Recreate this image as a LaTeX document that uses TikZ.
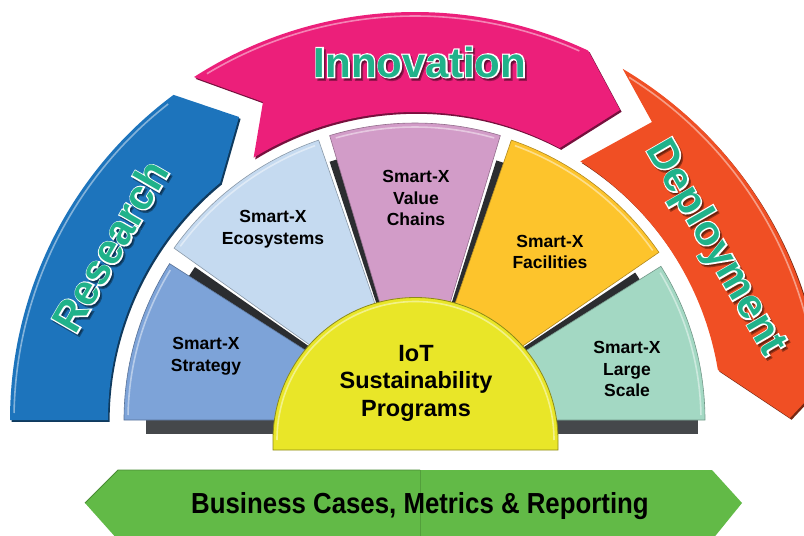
\documentclass[tikz,border=0pt]{standalone}
\usepackage{fontspec}
\setmainfont{Liberation Sans}
\newfontfamily\outlinefont[FakeBold=6]{Liberation Sans Bold}
\newfontfamily\narrowfont[FakeStretch=0.89]{Liberation Sans Bold}
\usetikzlibrary{calc}
\definecolor{rsblue}{HTML}{1D74BC}
\definecolor{innpink}{HTML}{EC1F7A}
\definecolor{deporange}{HTML}{F04F24}
\definecolor{stratblue}{HTML}{7DA3D8}
\definecolor{ecoblue}{HTML}{C5DAF0}
\definecolor{valmauve}{HTML}{D29CC8}
\definecolor{facgold}{HTML}{FDC42C}
\definecolor{largemint}{HTML}{A3D8C3}
\definecolor{iotyellow}{HTML}{E9E628}
\definecolor{bizgreen}{HTML}{62BA47}
\definecolor{labteal}{HTML}{20B28A}
\definecolor{darkside}{HTML}{2B2D30}
\definecolor{basebar}{HTML}{45484B}
\newcommand{\polpt}[2]{($(C)+(#1:#2pt)$)}
\newcommand{\fansect}[3]{(C) -- \polpt{#1}{#3} arc[start angle=#1, end angle=#2, radius=#3pt] -- cycle}
\newcommand{\rimarc}[3]{\polpt{#1}{#3} arc[start angle=#1, end angle=#2, radius=#3pt]}
\newcommand{\researchpath}{\polpt{180}{405} arc[start angle=180, end angle=126.6, radius=405pt] -- (239,117) -- \polpt{129.4}{307} arc[start angle=129.4, end angle=180, radius=307pt] -- cycle}
\newcommand{\innovpath}{\polpt{122.8}{408} arc[start angle=122.8, end angle=64.9, radius=408pt] -- (620,110) -- \polpt{62}{308} arc[start angle=62, end angle=121.6, radius=308pt] -- (263,102) -- cycle}
\newcommand{\deploypath}{\polpt{59.4}{408} arc[start angle=59.4, end angle=5, radius=408pt] -- (790,418) -- \polpt{9.4}{307} arc[start angle=9.4, end angle=57.4, radius=307pt] -- (652,122) -- cycle}
\newcommand{\bandlabel}[4]{%
  \node[bandsh, rotate=#3] (#1s) at ($#2+(2,2.5)$) {#4};
  \node[bandwh, rotate=#3] (#1w) at #2 {#4};
  \node[bandtx, rotate=#3] (#1) at #2 {#4};
}
\begin{document}
\begin{tikzpicture}[x=1pt,y=-1pt,
  seglab/.style={align=center, text=black, inner sep=0pt, font=\bfseries\fontsize{17.5}{21.5}\selectfont},
  iotlab/.style={align=center, text=black, inner sep=0pt, font=\bfseries\fontsize{23.5}{27.5}\selectfont},
  bandsh/.style={text=black, text opacity=0.35, inner sep=0pt, font=\outlinefont\fontsize{42}{50}\selectfont},
  bandwh/.style={text=white, inner sep=0pt, font=\outlinefont\fontsize{42}{50}\selectfont},
  bandtx/.style={text=labteal, inner sep=0pt, font=\bfseries\fontsize{42}{50}\selectfont},
  rimlight/.style={draw=white, draw opacity=0.45, line width=1.6pt},
  bandshadow/.style={transform canvas={shift={(1.6pt,-1.8pt)}}},
]
\useasboundingbox (0,0) rectangle (804,536);
\clip (0,0) rectangle (804,536);
\fill[white] (0,0) rectangle (804,536);
\coordinate (C) at (415,420);

% ---- outer arrow bands ----
\fill[rsblue!50!black, bandshadow] \researchpath;
\fill[rsblue] \researchpath;
\draw[rimlight] \rimarc{179}{128}{401};
\fill[innpink!50!black, bandshadow] \innovpath;
\fill[innpink] \innovpath;
\draw[rimlight] \rimarc{121}{66}{404};
\fill[deporange!50!black, bandshadow] \deploypath;
\fill[deporange] \deploypath;
\draw[rimlight] \rimarc{58}{6}{404};

% ---- fan: dark sides ----
\fill[basebar] (146,420) rectangle (698,434);
\fill[darkside] (C) -- \polpt{145.2}{268} arc[start angle=145.2, end angle=147.5, radius=268pt] -- cycle;
\fill[darkside] (C) -- \polpt{106.7}{272} arc[start angle=106.7, end angle=108.3, radius=272pt] -- cycle;
\fill[darkside] (C) -- \polpt{71}{272} arc[start angle=71, end angle=72.6, radius=272pt] -- cycle;
\fill[darkside] (C) -- \polpt{32}{265} arc[start angle=32, end angle=33.8, radius=265pt] -- cycle;

% ---- fan segments ----
\filldraw[fill=stratblue, draw=stratblue!70!black, line width=0.6pt] \fansect{180}{147.5}{291};
\draw[rimlight] \rimarc{179}{148.5}{287};
\filldraw[fill=ecoblue, draw=ecoblue!70!black, line width=0.6pt] \fansect{144.5}{109}{296};
\draw[rimlight] \rimarc{143.5}{110}{292};
\filldraw[fill=valmauve, draw=valmauve!70!black, line width=0.6pt] \fansect{106.7}{73.3}{297};
\draw[rimlight] \rimarc{105.7}{74.3}{293};
\filldraw[fill=facgold, draw=facgold!70!black, line width=0.6pt] \fansect{71}{34.5}{296};
\draw[rimlight] \rimarc{70}{35.5}{292};
\filldraw[fill=largemint, draw=largemint!70!black, line width=0.6pt] \fansect{32}{0}{290};
\draw[rimlight] \rimarc{31}{1}{286};

% ---- centre dome ----
\filldraw[fill=iotyellow, draw=iotyellow!60!black, line width=0.8pt] (273,450) -- (273,440) arc[start angle=180, end angle=0, radius=142.5pt] -- (558,450) -- cycle;
\draw[rimlight] (277,440) arc[start angle=180, end angle=0, radius=138.5pt];

% ---- bottom bar ----
\fill[bizgreen] (85,503) -- (118,470) -- (712,470) -- (742,503) -- (712,540) -- (118,540) -- cycle;
\draw[bizgreen!75!black, line width=0.8pt] (85,503) -- (118,470) -- (420,470);
\draw[bizgreen!85!black, line width=0.5pt] (420,470) -- (420,540);
\node[text=black, anchor=base, inner sep=0pt, font=\narrowfont\fontsize{29}{34}\selectfont] (biz) at (420,513) {Business Cases, Metrics \& Reporting};

% ---- labels ----
\node[seglab] (strat) at (206,356) {Smart-X\\Strategy};
\node[seglab] (eco) at (273,229) {Smart-X\\Ecosystems};
\node[seglab] (val) at (416,198) {Smart-X\\Value\\Chains};
\node[seglab] (fac) at (550,252) {Smart-X\\Facilities};
\node[seglab] (lrg) at (627,369) {Smart-X\\Large\\Scale};
\node[iotlab] (iot) at (416,383) {IoT\\Sustainability\\Programs};

\bandlabel{innov}{(420,62)}{0}{Innovation}
\bandlabel{res}{(110,246)}{60}{Research}
\bandlabel{dep}{(715,248)}{-60}{Deployment}
\end{tikzpicture}
\end{document}
